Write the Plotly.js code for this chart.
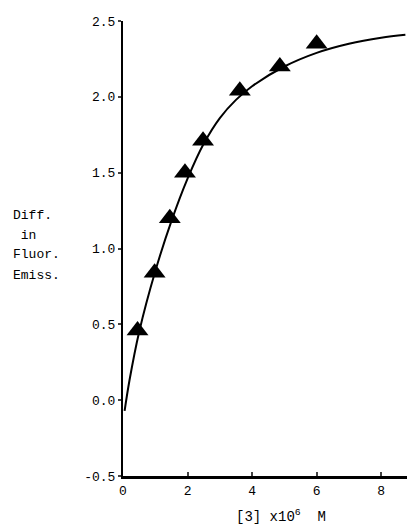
<!DOCTYPE html>
<html><head><meta charset="utf-8">
<script src="https://cdn.plot.ly/plotly-3.0.1.min.js"></script>
<style>html,body{margin:0;padding:0;background:#fff}#c{width:407px;height:529px}</style>
</head><body><div id="c"></div>
<script>
const pointX = [0.45, 0.98, 1.45, 1.92, 2.48, 3.62, 4.86, 6.0];
const pointY = [0.46, 0.84, 1.20, 1.50, 1.71, 2.04, 2.20, 2.35];
const curveX = [0.05, 0.2, 0.5, 1.0, 1.5, 2.0, 2.5, 3.0, 3.5, 4.0, 5.0, 6.0, 7.0, 8.0, 8.75];
const curveY = [-0.07, 0.13, 0.45, 0.85, 1.18, 1.46, 1.69, 1.86, 1.98, 2.07, 2.20, 2.29, 2.35, 2.39, 2.41];
const xTicks = [0, 2, 4, 6, 8];
const yTicks = [-0.5, 0.0, 0.5, 1.0, 1.5, 2.0, 2.5];
const yTickText = ['-0.5', '0.0', '0.5', '1.0', '1.5', '2.0', '2.5'];
const yLabelLines = ['Diff.', ' in', 'Fluor.', 'Emiss.'];
const xTitle = '[3] x10<sup>6</sup>  M';
const font = {family: 'Liberation Mono, DejaVu Sans Mono, monospace', size: 13, color: '#000'};
const titleFont = {family: 'Liberation Mono, DejaVu Sans Mono, monospace', size: 14, color: '#000'};

const yLabelAnns = yLabelLines.map((t, i) => ({
  xref: 'paper', yref: 'paper', x: -0.395, y: (476 - (215 + 20 * i)) / 455,
  xanchor: 'left', yanchor: 'middle', showarrow: false, align: 'left',
  text: t.replace(' ', '&nbsp;'), font: font
}));

Plotly.newPlot('c', [
  {x: curveX, y: curveY, mode: 'lines', line: {color: '#000', width: 2, shape: 'spline'}, hoverinfo: 'skip'},
  {x: pointX, y: pointY, mode: 'markers', marker: {symbol: 'triangle-up', size: 19, color: '#000'}}
], {
  width: 407, height: 529,
  margin: {l: 123, r: 0, t: 21, b: 53},
  showlegend: false,
  paper_bgcolor: '#fff', plot_bgcolor: '#fff',
  font: font,
  xaxis: {range: [0, 8.8], tickvals: xTicks, ticktext: xTicks.map(String), ticks: 'inside', ticklen: 4, tickwidth: 2,
          showline: true, linewidth: 3, linecolor: '#000', showgrid: false, zeroline: false, tickfont: font},
  yaxis: {range: [-0.5, 2.5], tickvals: yTicks, ticktext: yTickText, ticks: 'outside', ticklen: 3, tickwidth: 2,
          showline: true, linewidth: 2, linecolor: '#000', showgrid: false, zeroline: false, tickfont: font},
  annotations: [
    {xref: 'paper', yref: 'paper', x: 0.556, y: -0.112, xanchor: 'center', yanchor: 'bottom', showarrow: false,
     text: xTitle, font: titleFont}
  ].concat(yLabelAnns)
}, {staticPlot: true});
</script></body></html>
